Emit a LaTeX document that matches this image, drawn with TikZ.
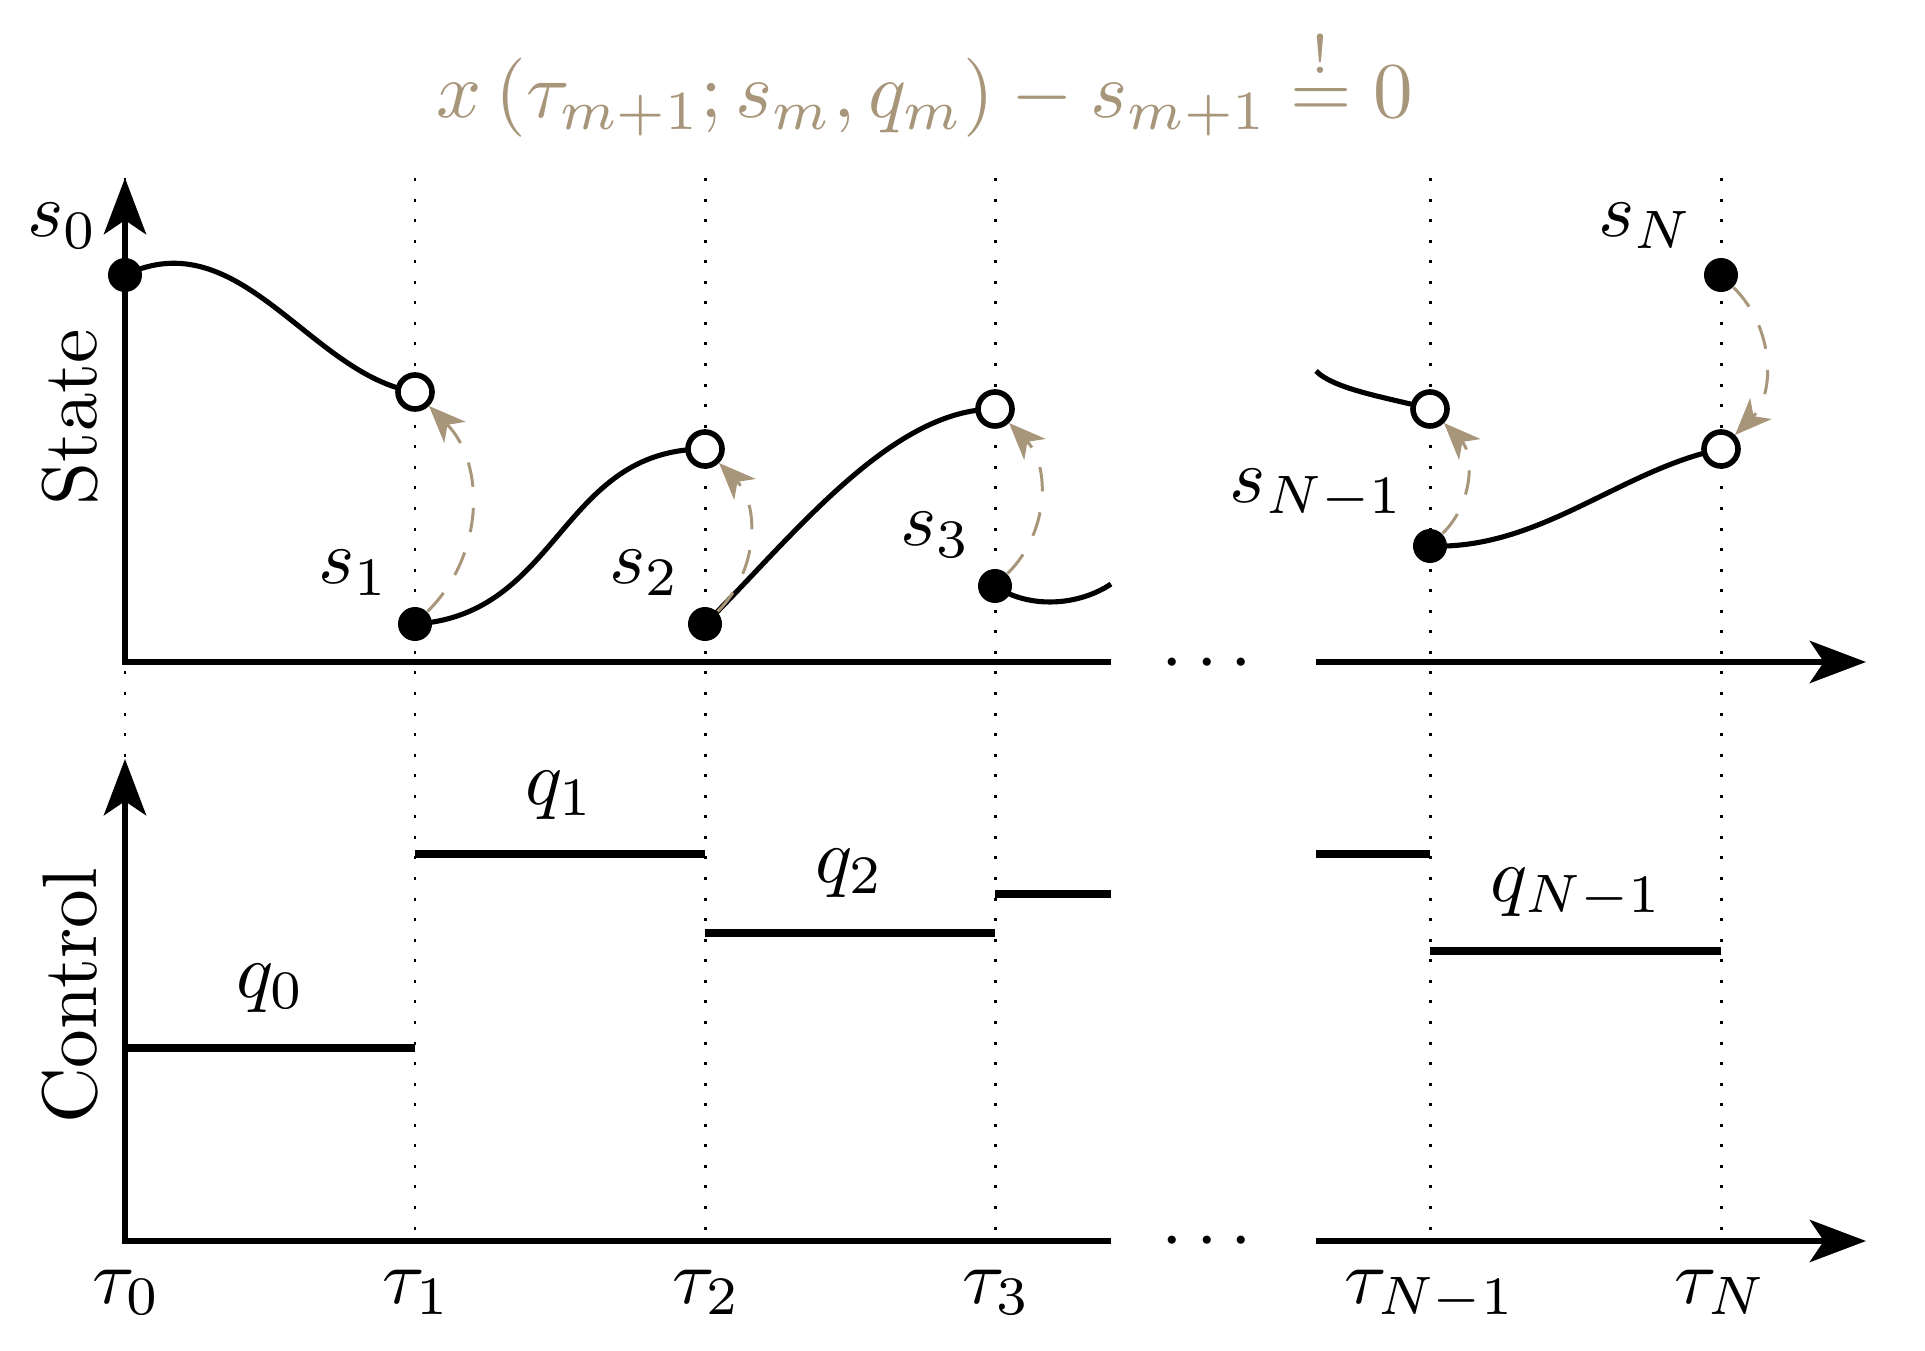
\documentclass[tikz,border=0pt]{standalone}
\usetikzlibrary{arrows.meta}
\definecolor{taupe}{RGB}{168,150,122}
\begin{document}
\begin{tikzpicture}[
  ax/.style={line width=1.7pt, -{Stealth[length=16pt,width=12pt,inset=4pt]}},
  vdot/.style={line width=0.85pt, dash pattern=on 0.85pt off 5pt},
  traj/.style={line width=1.45pt},
  qbar/.style={line width=2.1pt},
  fdot/.style={circle, fill=black, inner sep=0pt, minimum size=0.34cm},
  odot/.style={circle, draw=black, fill=white, line width=1.6pt, inner sep=0pt, minimum size=0.34cm},
  jump/.style={taupe, line width=0.85pt, dash pattern=on 7pt off 6pt, -{Stealth[length=10.5pt,width=8.5pt,inset=3pt]}},
  lbl/.style={scale=2.2, anchor=base, inner sep=0pt},
]
\path[use as bounding box] (0,0) rectangle (19.25,13.5);

% time coordinates
\foreach \n/\x in {0/1.25,1/4.15,2/7.05,3/9.95,N1/14.30,N/17.21}{
  \coordinate (top\n) at (\x,11.72);
  \coordinate (bot\n) at (\x,1.09);
}
\foreach \n in {0,1,2,3,N1,N}{
  \draw[vdot] (top\n) -- (bot\n);
}

% axes
\coordinate (uO) at (1.25,6.88);
\coordinate (uY) at (1.25,11.72);
\coordinate (uXa) at (11.11,6.88);
\coordinate (uXb) at (13.16,6.88);
\coordinate (uXe) at (18.66,6.88);
\coordinate (lO) at (1.25,1.09);
\coordinate (lY) at (1.25,5.91);
\coordinate (lXa) at (11.11,1.09);
\coordinate (lXb) at (13.16,1.09);
\coordinate (lXe) at (18.66,1.09);
\draw[ax] (uXa) -- (uO) -- (uY);
\draw[ax] (uXb) -- (uXe);
\draw[ax] (lXa) -- (lO) -- (lY);
\draw[ax] (lXb) -- (lXe);
\node[scale=2.2] (udots) at (12.07,6.86) {$\cdots$};
\node[scale=2.2] (ldots) at (12.07,1.08) {$\cdots$};

% state points
\coordinate (S0) at (1.25,10.75);
\coordinate (P1) at (4.15,9.58);
\coordinate (S1) at (4.15,7.26);
\coordinate (P2) at (7.05,9.01);
\coordinate (S2) at (7.05,7.26);
\coordinate (P3) at (9.95,9.41);
\coordinate (S3) at (9.95,7.64);
\coordinate (E3) at (11.11,7.66);
\coordinate (BN) at (13.16,9.79);
\coordinate (PN1) at (14.30,9.41);
\coordinate (SN1) at (14.30,8.04);
\coordinate (PN) at (17.21,9.01);
\coordinate (SN) at (17.21,10.75);

\draw[traj] (S0) .. controls (2.4,11.3) and (3.1,9.75) .. (P1);
\draw[traj] (S1) .. controls (5.6,7.35) and (5.6,9.01) .. (P2);
\draw[traj] (S2) .. controls (7.9,8.1) and (8.9,9.41) .. (P3);
\draw[traj] (S3) .. controls (10.3,7.4) and (10.8,7.45) .. (E3);
\draw[traj] (BN) .. controls (13.35,9.6) and (13.9,9.52) .. (PN1);
\draw[traj] (SN1) .. controls (15.4,8.0) and (16.2,8.8) .. (PN);

\node[fdot] (s0) at (S0) {};
\node[fdot] (s1) at (S1) {};
\node[fdot] (s2) at (S2) {};
\node[fdot] (s3) at (S3) {};
\node[fdot] (sN1) at (SN1) {};
\node[fdot] (sN) at (SN) {};
\node[odot] (o1) at (P1) {};
\node[odot] (o2) at (P2) {};
\node[odot] (o3) at (P3) {};
\node[odot] (oN1) at (PN1) {};
\node[odot] (oN) at (PN) {};

\draw[jump] (s1) to[bend right=45] (o1);
\draw[jump] (s2) to[bend right=45] (o2);
\draw[jump] (s3) to[bend right=45] (o3);
\draw[jump] (sN1) to[bend right=45] (oN1);
\draw[jump] (sN) to[bend left=45] (oN);

% state labels
\node[lbl] (ls0) at (0.63,11.13) {$s_0$};
\node[lbl] (ls1) at (3.54,7.66) {$s_1$};
\node[lbl] (ls2) at (6.45,7.66) {$s_2$};
\node[lbl] (ls3) at (9.36,8.04) {$s_3$};
\node[lbl] (lsN1) at (13.17,8.48) {$s_{N-1}$};
\node[lbl] (lsN) at (16.46,11.13) {$s_N$};

% controls
\coordinate (Q0a) at (1.25,3.02);  \coordinate (Q0b) at (4.15,3.02);
\coordinate (Q1a) at (4.15,4.96);  \coordinate (Q1b) at (7.05,4.96);
\coordinate (Q2a) at (7.05,4.17);  \coordinate (Q2b) at (9.95,4.17);
\coordinate (Q3a) at (9.95,4.56);  \coordinate (Q3b) at (11.11,4.56);
\coordinate (QMa) at (13.16,4.96); \coordinate (QMb) at (14.30,4.96);
\coordinate (QNa) at (14.30,3.99); \coordinate (QNb) at (17.21,3.99);
\draw[qbar] (Q0a) -- (Q0b);
\draw[qbar] (Q1a) -- (Q1b);
\draw[qbar] (Q2a) -- (Q2b);
\draw[qbar] (Q3a) -- (Q3b);
\draw[qbar] (QMa) -- (QMb);
\draw[qbar] (QNa) -- (QNb);

\node[lbl] (lq0) at (2.71,3.53) {$q_0$};
\node[lbl] (lq1) at (5.60,5.46) {$q_1$};
\node[lbl] (lq2) at (8.50,4.68) {$q_2$};
\node[lbl] (lqN1) at (15.77,4.49) {$q_{N-1}$};

% time labels
\node[lbl] (t0) at (1.27,0.47) {$\tau_0$};
\node[lbl] (t1) at (4.17,0.47) {$\tau_1$};
\node[lbl] (t2) at (7.07,0.47) {$\tau_2$};
\node[lbl] (t3) at (9.97,0.47) {$\tau_3$};
\node[lbl] (tN1) at (14.30,0.47) {$\tau_{N-1}$};
\node[lbl] (tN) at (17.21,0.47) {$\tau_N$};

% axis labels
\node[scale=2.2, anchor=base, rotate=90, inner sep=0pt] (state) at (0.96,9.33) {State};
\node[scale=2.2, anchor=base, rotate=90, inner sep=0pt] (control) at (0.96,3.54) {Control};

% title
\node[taupe, scale=2.25, anchor=base, inner sep=0pt] (title) at (9.25,12.32)
  {$x\left(\tau_{m+1};s_m,q_m\right)-s_{m+1}\stackrel{!}{=}0$};
\end{tikzpicture}
\end{document}
